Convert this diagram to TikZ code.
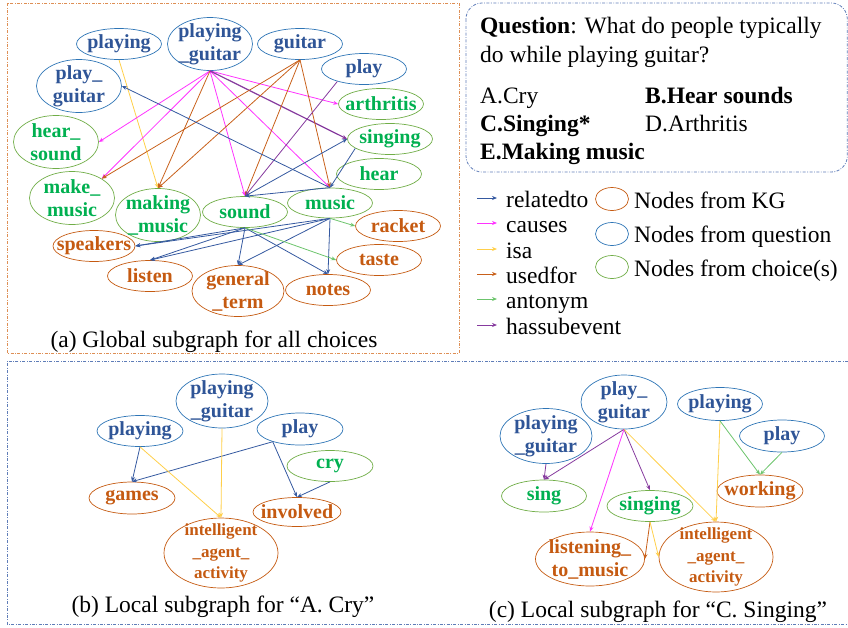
\documentclass[tikz,border=0pt]{standalone}
\usepackage{fontspec}
\setmainfont{Liberation Serif}
\usetikzlibrary{shapes.geometric,arrows.meta}

\definecolor{qline}{HTML}{2E75B6}
\definecolor{qtext}{HTML}{2F5597}
\definecolor{kline}{HTML}{C55A11}
\definecolor{ktext}{HTML}{C55A11}
\definecolor{cline}{HTML}{70AD47}
\definecolor{ctext}{HTML}{00B050}
\definecolor{rel}{HTML}{3559A0}
\definecolor{cau}{HTML}{FF33FF}
\definecolor{isacol}{HTML}{FFCF4A}
\definecolor{usd}{HTML}{C8601A}
\definecolor{ant}{HTML}{6CC46C}
\definecolor{hse}{HTML}{863A9E}
\definecolor{frA}{HTML}{DE8F55}
\definecolor{frB}{HTML}{5F7DB8}

\tikzset{
  nbase/.style={ellipse, inner xsep=-45pt, inner ysep=-35pt, line width=0.7pt, align=center,
    font=\bfseries\fontsize{20}{23}\selectfont, minimum width=85pt, minimum height=31pt},
  qn/.style={nbase, draw=qline, text=qtext},
  kn/.style={nbase, draw=kline, text=ktext},
  cn/.style={nbase, draw=cline, text=ctext},
  tall/.style={minimum height=53pt},
  smallfont/.style={font=\bfseries\fontsize{17}{21.7}\selectfont, minimum width=114pt, minimum height=70pt},
  edge/.style={line width=0.8pt, -{Stealth[length=5pt,width=4pt]}},
  erel/.style={edge, draw=rel},
  ecau/.style={edge, draw=cau},
  eisa/.style={edge, draw=isacol},
  eusd/.style={edge, draw=usd},
  eant/.style={edge, draw=ant},
  ehse/.style={edge, draw=hse},
  frame/.style={line width=0.8pt, dash pattern=on 3pt off 1.5pt on 0.8pt off 1.5pt},
  txt/.style={font=\fontsize{23.5}{28}\selectfont, inner sep=0pt},
}

\begin{document}
\begin{tikzpicture}[x=1pt,y=-1pt]
\useasboundingbox (0,0) rectangle (848,627);

% frames
\draw[frame, draw=frA] (7,3) rectangle (459,353);
\draw[frame, draw=frB, rounded corners=16pt] (466,3) rectangle (847.3,172);
\draw[frame, draw=frB] (848,361) -- (7,361) -- (7,624) -- (848,624);

% question
\node[txt, anchor=base west] (ql1) at (480,33) {\textbf{Question}: What do people typically};
\node[txt, anchor=base west] (ql2) at (480,62) {do while playing guitar?};
\node[txt, anchor=base west] (optA) at (480,103) {A.Cry};
\node[txt, anchor=base west] (optB) at (645,103) {\textbf{B.Hear sounds}};
\node[txt, anchor=base west] (optC) at (480,131) {\textbf{C.Singing*}};
\node[txt, anchor=base west] (optD) at (645,131) {D.Arthritis};
\node[txt, anchor=base west] (optE) at (480,159) {\textbf{E.Making music}};

% legend
\foreach \y/\c/\t [count=\i] in {207/rel/relatedto, 232/cau/causes, 258/isacol/isa, 283/usd/usedfor, 308/ant/antonym, 334/hse/hassubevent} {
  \coordinate (la\i) at (477,\y-9);
  \coordinate (lb\i) at (497,\y-9);
  \draw[edge, draw=\c] (la\i) -- (lb\i);
  \node[txt, anchor=base west] (lt\i) at (506,\y) {\t};
}
\node[nbase, draw=kline, minimum width=33pt, minimum height=23pt] (lk) at (612,199) {};
\node[nbase, draw=qline, minimum width=33pt, minimum height=23pt] (lq) at (612,234) {};
\node[nbase, draw=cline, minimum width=33pt, minimum height=23pt] (lc) at (612,267) {};
\node[txt, anchor=base west] (lkt) at (634,208) {Nodes from KG};
\node[txt, anchor=base west] (lqt) at (634,242) {Nodes from question};
\node[txt, anchor=base west] (lct) at (634,276) {Nodes from choice(s)};

% ---------- (a) global subgraph ----------
\node[qn] (gPlaying) at (119,44) {playing};
\node[qn, tall] (gPG) at (210,44) {playing\\\_guitar};
\node[qn] (gGuitar) at (300,44) {guitar};
\node[qn] (gPlay) at (364,69) {play};
\node[qn, tall] (gPlayG) at (79,86) {play\_\\guitar};
\node[cn] (gArth) at (381,104) {arthritis};
\node[cn] (gSinging) at (390,139) {singing};
\node[cn] (gHear) at (379,174) {hear};
\node[cn, tall] (gHearS) at (56,142) {hear\_\\sound};
\node[cn, tall] (gMakeM) at (72,198) {make\_\\music};
\node[cn, tall] (gMakingM) at (158,215) {making\\\_music};
\node[cn] (gSound) at (245,212) {sound};
\node[cn, minimum height=30pt] (gMusic) at (330,203) {music};
\node[kn] (gRacket) at (398,226) {racket};
\node[kn, minimum width=82pt] (gSpeakers) at (94,246) {speakers};
\node[kn] (gTaste) at (379,260) {taste};
\node[kn] (gListen) at (150,276) {listen};
\node[kn, minimum width=92pt, minimum height=51pt] (gGeneral) at (238,291) {general\\\_term};
\node[kn] (gNotes) at (328,290) {notes};

\draw[eisa] (gPlaying.south) -- (gMakingM.north);
\draw[ecau] (gPG.south) -- (gHearS.east);
\draw[ecau] (gPG.south) -- (gMakeM.33);
\draw[ecau] (gPG.south) -- (gSound.north);
\draw[ecau] (gPG.south) -- (gMusic.north);
\draw[ecau] (gPG.south) -- (gArth.west);
\draw[eusd] (gPG.south) -- (gMakingM.north);
\draw[ehse, line width=1.2pt] (gPG.south) -- (gSinging.west);
\draw[eusd] (gGuitar.south) -- (gMakeM.33);
\draw[eusd] (gGuitar.south) -- (gMakingM.north);
\draw[eusd] (gGuitar.south) -- (gSound.north);
\draw[eusd] (gGuitar.south) -- (gMusic.north);
\draw[ehse] (gPlay.205) -- (gSound.north);
\draw[erel] (gMusic.north) -- (gPlayG.east);
\draw[erel] (gSound.north) -- (gSinging.west);
\draw[erel] (gSinging.195) -- (gMusic.north);
\draw[erel] (gMusic.north) -- (gSound.north);
\foreach \s in {gSound,gMusic} {
  \draw[erel] (\s.south) -- (gSpeakers.east);
  \draw[erel] (\s.south) -- (gListen.north);
  \draw[erel] (\s.south) -- (gGeneral.north);
  \draw[erel] (\s.south) -- (gNotes.north);
}
\draw[eant] (gSound.south) -- (gTaste.west);
\draw[eant] (gMusic.south) -- (gRacket.west);

\node[txt, anchor=base] (capA) at (214,347) {(a) Global subgraph for all choices};

% ---------- (b) ----------
\node[qn, minimum width=86pt] (bPlaying) at (140,431) {playing};
\node[qn, minimum width=92pt, minimum height=54pt] (bPG) at (222,401) {playing\\\_guitar};
\node[qn, minimum width=86pt, minimum height=32pt] (bPlay) at (300,429) {play};
\node[cn, minimum width=86pt] (bCry) at (330,466) {cry};
\node[kn, minimum width=86pt, minimum height=32pt] (bGames) at (132,498) {games};
\node[kn, minimum width=88pt, minimum height=29pt] (bInvolved) at (297,512) {involved};
\node[kn, smallfont] (bIAA) at (221,553) {intelligent\\\_agent\_\\activity};

\draw[erel] (bPlaying.south) -- (bGames.north);
\draw[erel] (bPlay.205) -- (bGames.north);
\draw[erel] (bPlay.205) -- (bInvolved.north);
\draw[erel] (bCry.south) -- (bInvolved.north);
\draw[eisa] (bPlaying.south) -- (bIAA.north);
\draw[eisa] (bPG.south) -- (bIAA.north);

\node[txt, anchor=base] (capB) at (223,612) {(b) Local subgraph for “A. Cry”};

% ---------- (c) ----------
\node[qn, minimum width=86pt, minimum height=54pt] (cPlayG) at (624,402) {play\_\\guitar};
\node[qn, minimum width=92pt, minimum height=55pt] (cPG) at (546,436) {playing\\\_guitar};
\node[qn, minimum height=33pt] (cPlaying) at (720,404) {playing};
\node[qn, minimum height=32pt] (cPlay) at (782,436) {play};
\node[cn, minimum height=32pt] (cSing) at (544,496) {sing};
\node[cn, minimum width=86pt] (cSinging) at (650,506) {singing};
\node[kn, minimum width=86pt, minimum height=32pt] (cWorking) at (760,491) {working};
\node[kn, minimum width=109pt, minimum height=54pt] (cListen) at (590,559) {listening\_\\to\_music};
\node[kn, smallfont] (cIAA) at (716,557) {intelligent\\\_agent\_\\activity};

\draw[ehse] (cPG.south) -- (cSing.north);
\draw[ehse] (cPlayG.south) -- (cSing.north);
\draw[ehse] (cPlayG.south) -- (cSinging.north);
\draw[ecau] (cPlayG.south) -- (cListen.north);
\draw[eisa] (cPlayG.south) -- (cIAA.north);
\draw[eisa] (cPlaying.south) -- (cIAA.north);
\draw[eant] (cPlaying.south) -- (cWorking.north);
\draw[eant] (cPlay.south) -- (cWorking.north);
\draw[eusd] (cSinging.south) -- (cListen.east);
\draw[eisa] (cSinging.south) -- (cIAA.west);

\node[txt, anchor=base] (capC) at (658,617) {(c) Local subgraph for “C. Singing”};
\end{tikzpicture}
\end{document}
